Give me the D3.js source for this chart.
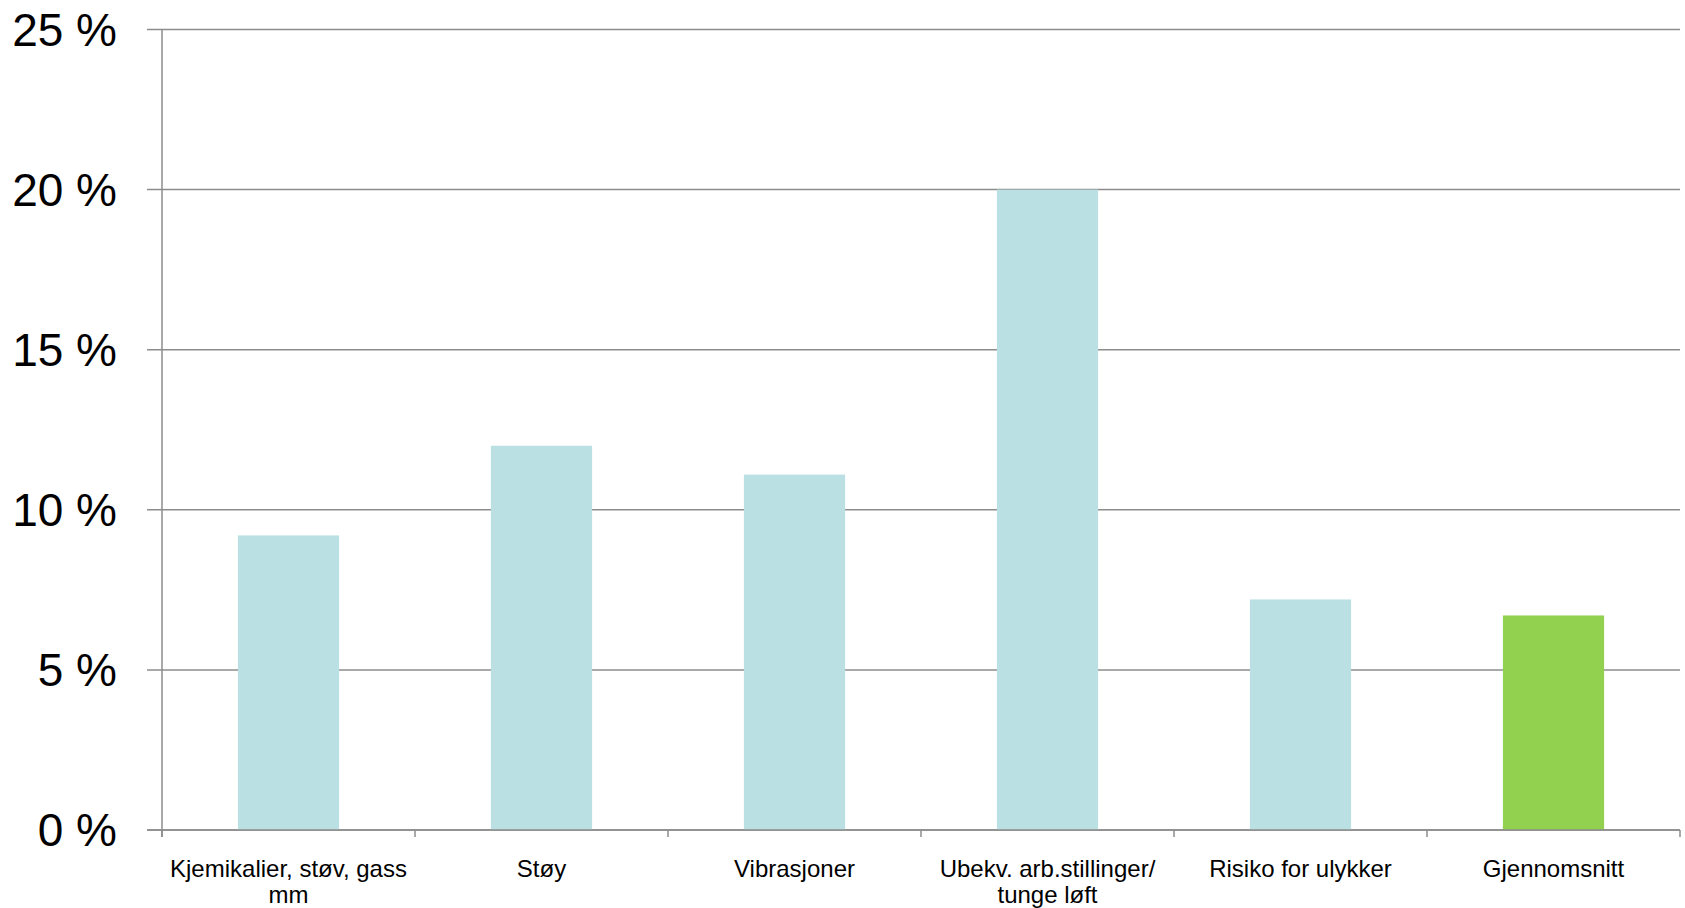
<!DOCTYPE html>
<html>
<head>
<meta charset="utf-8">
<script src="https://cdn.jsdelivr.net/npm/d3@7"></script>
<style>
  html, body { margin: 0; padding: 0; background: #ffffff; }
  svg { display: block; font-family: "Liberation Sans", Arial, sans-serif; }
</style>
</head>
<body>
<svg id="chart" width="1685" height="908"></svg>
<script>
// Category labels (each entry is the list of lines shown under the axis)
const categories = [
  ["Kjemikalier, støv, gass", "mm"],
  ["Støy"],
  ["Vibrasjoner"],
  ["Ubekv. arb.stillinger/", "tunge løft"],
  ["Risiko for ulykker"],
  ["Gjennomsnitt"]
];
// Share of respondents, in percent
const values = [9.2, 12.0, 11.1, 20.0, 7.2, 6.7];
// Which bar is the average (highlighted colour)
const highlight = [false, false, false, false, false, true];
// Y axis ticks
const yTicks = [0, 5, 10, 15, 20, 25];

const svg = d3.select("#chart");

const plotLeft = 162, plotRight = 1680, plotTop = 29.5, plotBottom = 830;
const keys = categories.map((c, i) => i);

const x = d3.scaleBand().domain(keys).range([plotLeft, plotRight]).padding(0);
const y = d3.scaleLinear().domain([0, 25]).range([plotBottom, plotTop]);

const gridColor = "#8c8c8c";

// Horizontal gridlines with short outward ticks on the left
svg.append("g")
  .selectAll("line")
  .data(yTicks)
  .join("line")
  .attr("x1", plotLeft - 15)
  .attr("x2", plotRight)
  .attr("y1", d => y(d))
  .attr("y2", d => y(d))
  .attr("stroke", gridColor)
  .attr("stroke-width", 1.5);

// Y tick labels
svg.append("g")
  .selectAll("text")
  .data(yTicks)
  .join("text")
  .attr("x", 117)
  .attr("y", d => y(d))
  .attr("dy", "0.35em")
  .attr("text-anchor", "end")
  .attr("font-size", 46)
  .attr("fill", "#000")
  .text(d => d + " %");

// Bars
const barFrac = 0.4;
svg.append("g")
  .selectAll("rect")
  .data(values)
  .join("rect")
  .attr("x", (d, i) => x(i) + x.bandwidth() * (1 - barFrac) / 2)
  .attr("width", x.bandwidth() * barFrac)
  .attr("y", d => y(d))
  .attr("height", d => y(0) - y(d))
  .attr("fill", (d, i) => highlight[i] ? "#92d050" : "#bae0e3");

// Y axis line
svg.append("line")
  .attr("x1", plotLeft).attr("x2", plotLeft)
  .attr("y1", plotTop).attr("y2", plotBottom + 7)
  .attr("stroke", gridColor).attr("stroke-width", 1.5);

// X axis baseline and category boundary ticks
svg.append("line")
  .attr("x1", plotLeft - 15).attr("x2", plotRight)
  .attr("y1", y(0)).attr("y2", y(0))
  .attr("stroke", gridColor).attr("stroke-width", 1.5);

const boundaries = keys.map(i => x(i)).concat([x(keys[keys.length - 1]) + x.bandwidth()]);
svg.append("g")
  .selectAll("line")
  .data(boundaries)
  .join("line")
  .attr("x1", d => d).attr("x2", d => d)
  .attr("y1", y(0)).attr("y2", y(0) + 7)
  .attr("stroke", gridColor).attr("stroke-width", 1.5);

// Category labels
const labels = svg.append("g")
  .selectAll("text")
  .data(categories)
  .join("text")
  .attr("x", (d, i) => x(i) + x.bandwidth() / 2)
  .attr("y", 877)
  .attr("text-anchor", "middle")
  .attr("font-size", 24)
  .attr("fill", "#000");

labels.selectAll("tspan")
  .data(d => d)
  .join("tspan")
  .attr("x", function () { return d3.select(this.parentNode).attr("x"); })
  .attr("dy", (d, j) => j === 0 ? 0 : 26)
  .text(d => d);
</script>
</body>
</html>
